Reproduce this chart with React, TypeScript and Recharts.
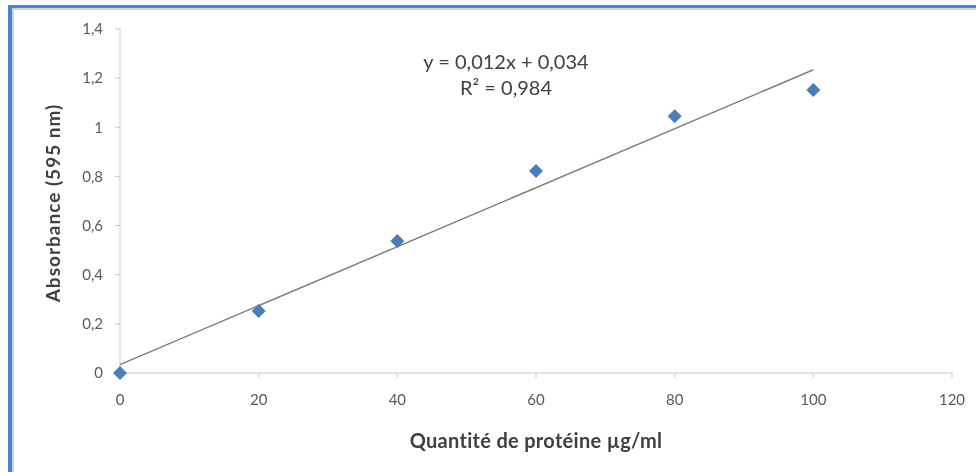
import { ScatterChart, Scatter, XAxis, YAxis, Label } from "recharts";

const quantities = [0, 20, 40, 60, 80, 100];
const absorbances = [0, 0.252, 0.537, 0.822, 1.045, 1.152];

// droite de tendance affichée par le tableur : y = 0,012x + 0,034
const trendX = [0, 100];
const trendY = [0.034, 1.234];

const xTicks = [0, 20, 40, 60, 80, 100, 120];
const yTicks = [0, 0.2, 0.4, 0.6, 0.8, 1, 1.2, 1.4];

const points = quantities.map((q, i) => ({ x: q, y: absorbances[i] }));
const trend = trendX.map((q, i) => ({ x: q, y: trendY[i] }));

const font = "Lato, 'Liberation Sans', sans-serif";

const Diamond = (props: any) => {
  const { cx, cy } = props;
  const r = 7;
  return (
    <polygon
      points={`${cx},${cy - r} ${cx + r},${cy} ${cx},${cy + r} ${cx - r},${cy}`}
      fill="#4a7ebb"
    />
  );
};

const fmt = (v: number) => String(v).replace(".", ",");

export default function App() {
  return (
    <div>
      {/* cadre du graphique */}
      <div
        style={{
          position: "fixed",
          left: 8,
          top: 5,
          right: 0,
          bottom: 0,
          borderLeft: "4px solid #4a84d4",
          borderTop: "3px solid #4a84d4",
        }}
      >
        <div
          style={{
            position: "absolute",
            inset: 0,
            borderLeft: "2px solid #d2d2d2",
            borderTop: "2px solid #d2d2d2",
          }}
        />
      </div>
      <div style={{ position: "fixed", left: 0, top: 0 }}>
        <ScatterChart
          width={976}
          height={472}
          margin={{ top: 29, right: 24, bottom: 0, left: 0 }}
        >
          <XAxis
            type="number"
            dataKey="x"
            domain={[0, 120]}
            ticks={xTicks}
            tickSize={5}
            tickMargin={16}
            height={99}
            stroke="#c8c8c8"
            tick={{ fill: "#595959", fontSize: 15, fontFamily: font }}
          >
            <Label
              value="Quantité de protéine µg/ml"
              position="center"
              dy={18}
              style={{
                fill: "#404040",
                fontSize: 20,
                fontWeight: 700,
                fontFamily: font,
                letterSpacing: 0.3,
              }}
            />
          </XAxis>
          <YAxis
            type="number"
            dataKey="y"
            domain={[0, 1.4]}
            ticks={yTicks}
            tickFormatter={fmt}
            width={120}
            tickSize={5}
            tickMargin={12}
            stroke="#c8c8c8"
            tick={{ fill: "#595959", fontSize: 15, fontFamily: font }}
          >
            <Label
              value="Absorbance (595 nm)"
              position="center"
              angle={-90}
              dx={-7}
              dy={2}
              style={{
                fill: "#404040",
                fontSize: 19,
                fontWeight: 700,
                fontFamily: font,
                letterSpacing: 1,
                textAnchor: "middle",
              }}
            />
          </YAxis>
          <Scatter
            data={trend}
            line={{ stroke: "#808080", strokeWidth: 1.5 }}
            shape={() => <g />}
            isAnimationActive={false}
          />
          <Scatter data={points} shape={Diamond} isAnimationActive={false} />
        </ScatterChart>
      </div>
      <div
        style={{
          position: "fixed",
          left: 386,
          top: 48,
          width: 240,
          textAlign: "center",
          fontFamily: font,
          fontSize: 20,
          lineHeight: "26px",
          color: "#404040",
        }}
      >
        <div>y = 0,012x + 0,034</div>
        <div>R² = 0,984</div>
      </div>
    </div>
  );
}
